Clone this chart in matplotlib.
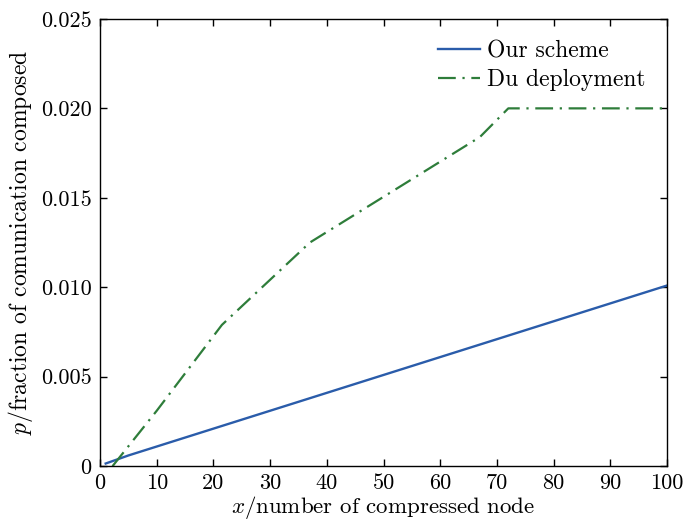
import matplotlib
matplotlib.use('Agg')
import matplotlib.pyplot as plt

plt.rcParams['font.family'] = 'serif'
plt.rcParams['font.serif'] = ['cmr10']
plt.rcParams['mathtext.fontset'] = 'cm'
plt.rcParams['axes.formatter.use_mathtext'] = True

# Daten
x_ours = [1, 5, 10, 14, 18, 22, 26, 30, 35, 40, 46, 50, 55, 58, 62, 66,
          72, 76, 80, 84, 88, 92, 96, 100]
p_ours = [0.00015, 0.0006, 0.0011, 0.0015, 0.0019, 0.0023, 0.0027, 0.0031,
          0.0036, 0.0041, 0.0047, 0.0051, 0.0056, 0.0059, 0.0063, 0.0067,
          0.0073, 0.0077, 0.0081, 0.0085, 0.0089, 0.0093, 0.0097, 0.0101]

x_du = [2.2, 10, 21.5, 37, 67, 72, 100]
p_du = [0.0, 0.0031, 0.0079, 0.0125, 0.0184, 0.0200, 0.0200]

xticks = [0, 10, 20, 30, 40, 50, 60, 70, 80, 90, 100]
yticks = [0, 0.005, 0.010, 0.015, 0.020, 0.025]
ytick_labels = ['0', '0.005', '0.010', '0.015', '0.020', '0.025']

fig = plt.figure(figsize=(6.87, 5.25), dpi=100)
ax = fig.add_axes([0.1456, 0.112, 0.8254, 0.852])

ax.plot(x_ours, p_ours, color='#2a5caa', linewidth=1.7, label='Our scheme')
ax.plot(x_du, p_du, color='#2e7d3a', linewidth=1.6, linestyle=(0, (8, 3, 1, 3)),
        label='Du deployment')

ax.set_xlim(0, 100)
ax.set_ylim(0, 0.025)
ax.set_xticks(xticks)
ax.set_xticklabels([str(t) for t in xticks])
ax.set_yticks(yticks)
ax.set_yticklabels(ytick_labels)
ax.tick_params(direction='in', top=True, right=True, length=5, width=1,
               labelsize=16)
ax.tick_params(axis='x', pad=5)
ax.tick_params(axis='y', pad=6)
for s in ax.spines.values():
    s.set_linewidth(1.0)

ax.set_xlabel('$x$/number of compressed node', fontsize=16.5, labelpad=1)
ax.set_ylabel('$p$/fraction of comunication composed', fontsize=17, labelpad=4)

ax.legend(loc='upper right', frameon=False, fontsize=17, handlelength=1.8,
          handletextpad=0.3, borderaxespad=0.5, labelspacing=0.3)

fig.savefig('out.png', dpi=100)
